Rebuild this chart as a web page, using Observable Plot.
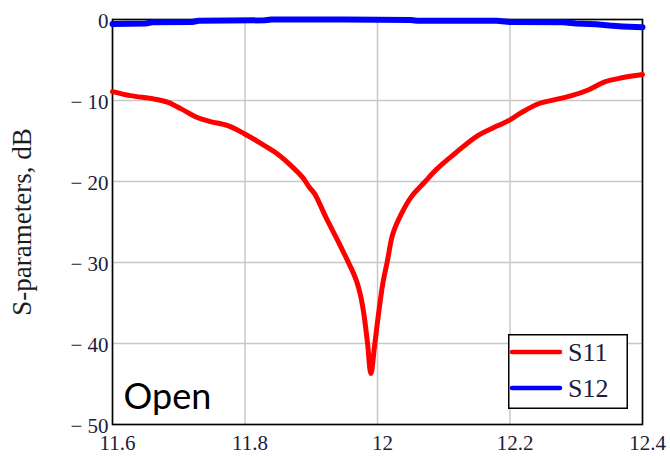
<!DOCTYPE html>
<html>
<head>
<meta charset="utf-8">
<script src="https://cdn.jsdelivr.net/npm/d3@7"></script>
<script src="https://cdn.jsdelivr.net/npm/@observablehq/plot@0.6"></script>
<style>
  body { margin: 0; background: #fff; }
  #wrap { position: relative; width: 670px; height: 456px; overflow: hidden; }
  #legend { position: absolute; left: 508px; top: 334px; }
  #wrap svg text { font-family: "Liberation Serif", serif; }
  #wrap svg text.sans { font-family: Lato, "Open Sans", sans-serif; }
</style>
</head>
<body>
<div id="wrap"></div>
<script>
// ---- data ----
const freqS11 = [11.600, 11.627, 11.662, 11.683, 11.703, 11.728, 11.748, 11.774, 11.799, 11.824,
                 11.849, 11.869, 11.887, 11.897, 11.905, 11.922, 11.940, 11.955, 11.968, 11.975,
                 11.980, 11.985, 11.990, 11.996, 12.001, 12.008, 12.015, 12.023, 12.036, 12.051,
                 12.071, 12.089, 12.116, 12.152, 12.182, 12.200, 12.217, 12.243, 12.268, 12.293,
                 12.318, 12.343, 12.369, 12.400];
const s11 = [-8.9, -9.4, -9.8, -10.2, -11.0, -12.1, -12.6, -13.1, -14.1, -15.3,
             -16.6, -18.0, -19.5, -20.7, -21.5, -24.4, -27.3, -29.8, -32.2, -34.3,
             -36.7, -40.0, -43.7, -40.0, -36.7, -32.6, -29.8, -26.5, -24.0, -21.9,
             -20.1, -18.5, -16.6, -14.3, -13.1, -12.4, -11.5, -10.4, -9.9, -9.4,
             -8.7, -7.7, -7.2, -6.8];
const freqS12 = [11.600, 11.650, 11.660, 11.720, 11.730, 11.830, 11.840, 11.950, 12.050, 12.060,
                 12.180, 12.200, 12.280, 12.300, 12.330, 12.350, 12.370, 12.400];
const s12 = [-0.55, -0.5, -0.35, -0.3, -0.15, -0.1, 0.0, 0.0, -0.05, -0.15,
             -0.15, -0.3, -0.35, -0.5, -0.6, -0.75, -0.85, -0.95];
const xTicks = [11.6, 11.8, 12.0, 12.2, 12.4];
const yTicks = [0, -10, -20, -30, -40, -50];
const seriesNames = ["S11", "S12"];
const seriesColors = ["#ff0000", "#0000ff"];
const yTitle = "S-parameters, dB";
const annotation = "Open";

const rowsS11 = freqS11.map((f, i) => ({ f, v: s11[i] }));
const rowsS12 = freqS12.map((f, i) => ({ f, v: s12[i] }));

const serif = "Liberation Serif";

const chart = Plot.plot({
  width: 670,
  height: 456,
  marginLeft: 112,
  marginRight: 28,
  marginTop: 19,
  marginBottom: 32,
  style: { fontFamily: serif, fontSize: "21px", color: "#1c1c3c", background: "#fff", overflow: "visible" },
  x: { domain: [11.6, 12.4] },
  y: { domain: [-50, 0] },
  marks: [
    Plot.gridX(xTicks, { stroke: "#c8c8c8", strokeOpacity: 1, strokeWidth: 1.5 }),
    Plot.gridY(yTicks, { stroke: "#c8c8c8", strokeOpacity: 1, strokeWidth: 1.5 }),
    Plot.frame({ stroke: "#000", strokeWidth: 1.6 }),
    Plot.axisX(xTicks, {
      tickSize: 0, tickPadding: 11, dx: 5, label: null, fontFamily: serif,
      tickFormat: d => String(+d.toFixed(1)), fontSize: 21
    }),
    Plot.axisY(yTicks, {
      tickSize: 0, tickPadding: 4, dy: 2, label: null, fontFamily: serif,
      tickFormat: d => d === 0 ? "0" : "\u2212 " + Math.abs(d), fontSize: 21
    }),
    Plot.text([yTitle], {
      frameAnchor: "left", textAnchor: "middle", lineAnchor: "middle", rotate: -90, dx: -90, dy: 0,
      fontSize: 27, fontFamily: serif, fill: "#1c1c1c"
    }),
    Plot.line(rowsS11, { x: "f", y: "v", stroke: seriesColors[0], strokeWidth: 5, strokeLinejoin: "round", curve: "catmull-rom" }),
    Plot.line(rowsS12, { x: "f", y: "v", stroke: seriesColors[1], strokeWidth: 6 }),
    Plot.text([annotation], {
      frameAnchor: "bottom-left", textAnchor: "start", lineAnchor: "bottom", className: "open-label",
      dx: 11, dy: -16, fontSize: 36, fontFamily: "Lato", fill: "#000"
    })
  ]
});

const wrap = document.getElementById("wrap");
wrap.appendChild(chart);
d3.select(chart).selectAll(".open-label text").classed("sans", true);

// legend
const lg = d3.select(wrap).append("svg")
  .attr("id", "legend")
  .attr("width", 121).attr("height", 76);
lg.append("rect").attr("x", 0.75).attr("y", 0.75).attr("width", 118.5).attr("height", 73.5)
  .attr("fill", "#fff").attr("stroke", "#000").attr("stroke-width", 1.5);
seriesNames.forEach((name, i) => {
  const yLine = 18 + i * 36;
  lg.append("line").attr("x1", 4).attr("x2", 52).attr("y1", yLine).attr("y2", yLine)
    .attr("stroke", seriesColors[i]).attr("stroke-width", 4.5).attr("stroke-linecap", "round");
  lg.append("text").attr("x", 60).attr("y", yLine + 8.5)
    .style("font-family", serif).attr("font-size", 26).attr("fill", "#1c1c3c").text(name);
});
</script>
</body>
</html>
